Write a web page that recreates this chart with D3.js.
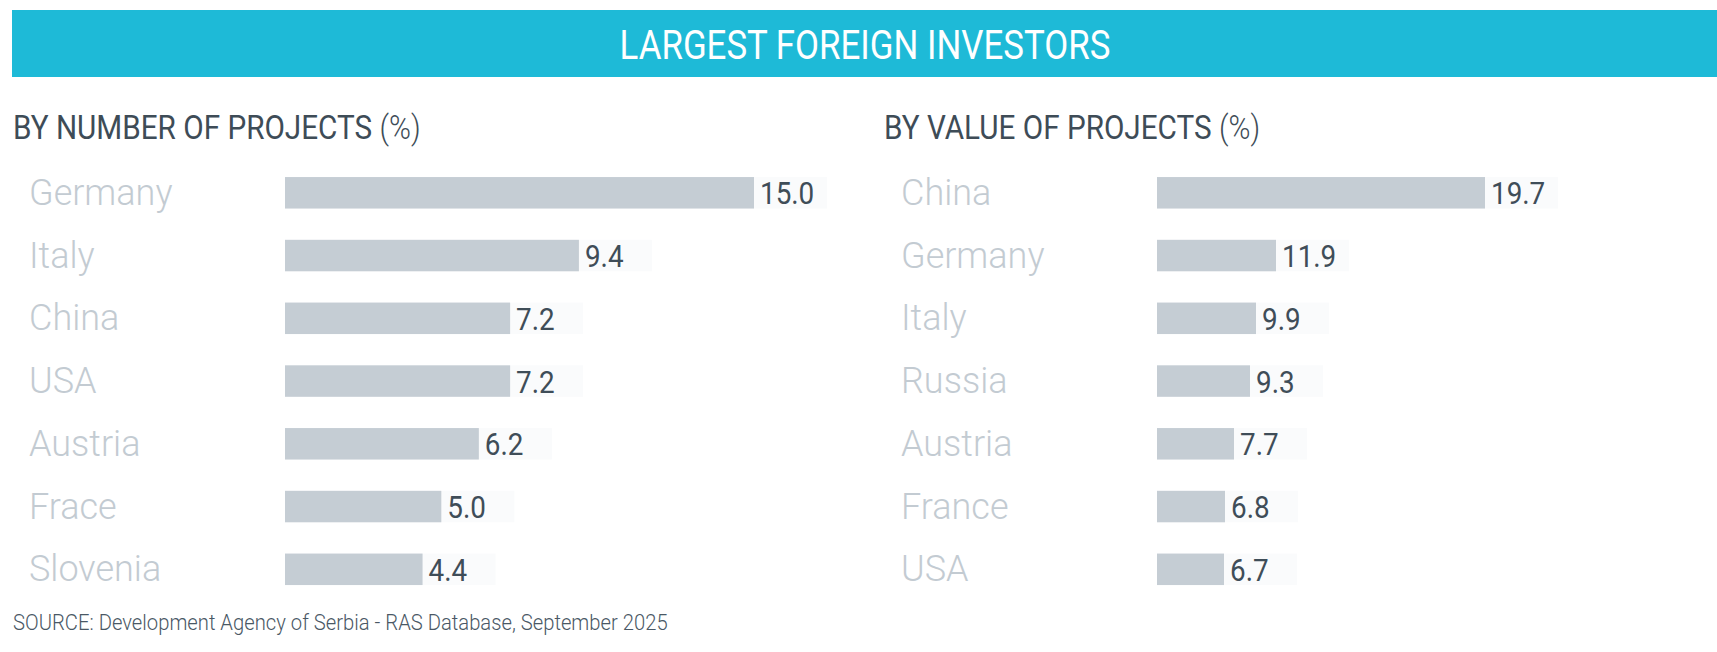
<!DOCTYPE html>
<html>
<head>
<meta charset="utf-8">
<script src="https://cdn.jsdelivr.net/npm/d3@7"></script>
<style>
  html, body { margin: 0; padding: 0; background: #fff; }
  svg { display: block; font-family: Roboto, "Open Sans", sans-serif; }
</style>
</head>
<body>
<div id="chart"></div>
<script>
// data
var titleText = "LARGEST FOREIGN INVESTORS";
var sourceText = "SOURCE: Development Agency of Serbia - RAS Database, September 2025";

var numberTitle = "BY NUMBER OF PROJECTS";
var numberCountries = ["Germany", "Italy", "China", "USA", "Austria", "Frace", "Slovenia"];
var numberValues = [15.0, 9.4, 7.2, 7.2, 6.2, 5.0, 4.4];

var valueTitle = "BY VALUE OF PROJECTS";
var valueCountries = ["China", "Germany", "Italy", "Russia", "Austria", "France", "USA"];
var valueValues = [19.7, 11.9, 9.9, 9.3, 7.7, 6.8, 6.7];

var width = 1717, height = 652;
var barColor = "#c5cdd4", labelColor = "#c3cbd2", valueColor = "#3f4d58", darkText = "#3e4c57";

var svg = d3.select("#chart").append("svg")
    .attr("width", width)
    .attr("height", height)
    .attr("viewBox", [0, 0, width, height]);

// banner
svg.append("rect")
    .attr("x", 12).attr("y", 10)
    .attr("width", width - 12).attr("height", 67)
    .attr("fill", "#1ebad7");

svg.append("text")
    .attr("transform", "translate(865,59) scale(0.85,1)")
    .attr("text-anchor", "middle")
    .attr("font-size", 41)
    .attr("fill", "#fff")
    .text(titleText);

// one panel of horizontal bars
function drawPanel(opts) {
    var g = svg.append("g");

    var sub = g.append("text")
        .attr("transform", `translate(${opts.titleX},139) scale(0.9,1)`)
        .attr("font-size", 33)
        .attr("fill", darkText);
    sub.append("tspan").text(opts.title + " ");
    sub.append("tspan").attr("font-weight", 300).text("(%)");

    var y = d3.scalePoint()
        .domain(opts.countries)
        .range([192.8, 569.3]);

    var x = opts.x;
    var barH = 31.5;
    var rows = opts.countries.map((c, i) => ({name: c, value: opts.values[i]}));

    g.selectAll(".label")
      .data(rows)
      .join("text")
        .attr("class", "label")
        .attr("x", opts.labelX)
        .attr("y", d => y(d.name) + 12)
        .attr("font-size", 36)
        .attr("font-weight", 300)
        .attr("fill", labelColor)
        .text(d => d.name);

    // faint box behind the value labels
    g.selectAll(".vbox")
      .data(rows)
      .join("rect")
        .attr("class", "vbox")
        .attr("x", d => opts.barX + x(d.value))
        .attr("y", d => y(d.name) - barH / 2)
        .attr("width", 73)
        .attr("height", barH)
        .attr("fill", "#fafbfc");

    g.selectAll(".bar")
      .data(rows)
      .join("rect")
        .attr("class", "bar")
        .attr("x", opts.barX)
        .attr("y", d => y(d.name) - barH / 2)
        .attr("width", d => x(d.value))
        .attr("height", barH)
        .attr("fill", barColor);

    g.selectAll(".value")
      .data(rows)
      .join("text")
        .attr("class", "value")
        .attr("transform", d => `translate(${opts.barX + x(d.value) + 6},${y(d.name) + 11.5}) scale(0.87,1)`)
        .attr("font-size", 32)
        .attr("fill", valueColor)
        .text(d => d3.format(".1f")(d.value));
}

drawPanel({
    title: numberTitle,
    countries: numberCountries,
    values: numberValues,
    titleX: 13, labelX: 29, barX: 285,
    x: d3.scaleLinear().domain([0, 15]).range([0, 469])
});

// the right panel's longest bar is drawn longer than the others in the original
drawPanel({
    title: valueTitle,
    countries: valueCountries,
    values: valueValues,
    titleX: 884, labelX: 901, barX: 1157,
    x: d3.scaleLinear().domain([0, 12, 19.7]).range([0, 120, 328])
});

svg.append("text")
    .attr("transform", "translate(13,630) scale(0.92,1)")
    .attr("font-size", 22)
    .attr("font-weight", 300)
    .attr("fill", "#4a5865")
    .text(sourceText);
</script>
</body>
</html>
